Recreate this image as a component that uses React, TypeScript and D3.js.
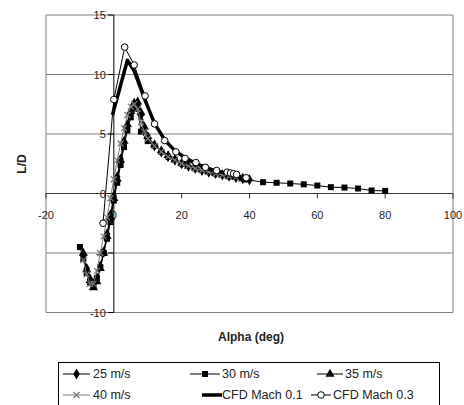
import React from "react";
import * as d3 from "d3";

// Lift-to-drag ratio vs. angle of attack: wind tunnel runs and CFD predictions
const alpha25 = [-9, -8, -7, -6, -5, -4, -3, -2, -1, 0, 1, 2, 3, 4, 5, 6, 7, 8, 9, 10, 12, 14, 16, 18, 20, 22, 24, 26, 28, 30, 32, 34, 36, 38, 40];
const ld25 = [-5.2, -6.3, -7.2, -7.6, -7.1, -6.1, -4.9, -3.4, -1.8, -0.2, 1.4, 2.9, 4.3, 5.6, 6.7, 7.4, 7.5, 6.6, 5.4, 4.7, 4.0, 3.5, 3.1, 2.8, 2.5, 2.3, 2.1, 1.95, 1.8, 1.68, 1.56, 1.45, 1.35, 1.25, 1.15];

const alpha30 = [-10, -9, -8, -7, -6, -5, -4, -3, -2, -1, 0, 1, 2, 3, 4, 5, 6, 7, 8, 10, 12, 14, 16, 18, 21, 24, 27, 30, 34, 39, 44, 48, 52, 56, 60, 64, 68, 72, 76, 80];
const ld30 = [-4.5, -5.5, -6.7, -7.5, -7.7, -7.1, -6.2, -5.0, -3.8, -2.4, -0.6, 0.9, 2.4, 3.9, 5.3, 6.4, 7.1, 7.2, 5.2, 4.4, 4.0, 3.5, 3.1, 2.85, 2.5, 2.2, 1.96, 1.7, 1.43, 1.18, 0.95, 0.9, 0.84, 0.77, 0.67, 0.53, 0.5, 0.42, 0.25, 0.22];

const alpha35 = [-9, -8, -7, -6, -5, -4, -3, -2, -1, 0, 1, 2, 3, 4, 5, 6, 7, 8, 9, 10, 12, 14, 16, 18, 20, 22, 24, 26, 28, 30, 32, 34, 36, 38];
const ld35 = [-5.0, -6.4, -7.3, -7.9, -7.4, -6.3, -5.0, -3.6, -2.0, -0.4, 1.2, 2.8, 4.4, 5.8, 6.9, 7.6, 7.7, 6.8, 5.6, 4.8, 4.1, 3.6, 3.2, 2.85, 2.55, 2.3, 2.15, 1.98, 1.82, 1.7, 1.57, 1.45, 1.35, 1.25];

const alpha40 = [-9, -8, -7, -6, -5, -4, -3, -2, -1, 0, 1, 2, 3, 4, 5, 6, 7, 8, 9, 10, 12, 14, 16, 18, 20, 22, 24, 26, 28, 30, 32, 34, 36];
const ld40 = [-5.6, -6.8, -7.6, -7.6, -6.5, -5.0, -3.6, -2.0, -0.4, 1.2, 2.8, 4.2, 5.5, 6.6, 7.3, 7.5, 7.1, 6.0, 5.2, 4.6, 4.0, 3.5, 3.1, 2.8, 2.5, 2.3, 2.1, 1.95, 1.8, 1.68, 1.56, 1.45, 1.35];

const alphaCfd1 = [-0.4, 4, 6, 9, 12, 15, 18, 21, 24, 27, 30, 33, 36, 40];
const ldCfd1 = [6.6, 11.2, 10.3, 8.0, 5.9, 4.5, 3.6, 3.0, 2.55, 2.2, 1.9, 1.7, 1.5, 1.2];

const alphaCfd3 = [-3.2, 0, 3.2, 6, 9.2, 12, 15, 18.3, 21, 24.2, 27, 30.3, 33.4, 34.4, 35.3, 36.2, 39];
const ldCfd3 = [-2.5, 7.9, 12.3, 10.8, 8.2, 5.85, 4.45, 3.5, 2.95, 2.6, 2.2, 1.93, 1.79, 1.72, 1.66, 1.6, 1.32];

const xTicks = [-20, 0, 20, 40, 60, 80, 100];
const yTicks = [-10, -5, 0, 5, 10, 15];
const gridValues = [-10, -5, 5, 10, 15];

const FONT = "'Liberation Sans', Arial, sans-serif";
const TEXT = "#222";
const GRID = "#808080";

type Marker = "diamond" | "square" | "triangle" | "cross" | "circle" | "none";

interface Series {
  name: string;
  alpha: number[];
  ld: number[];
  marker: Marker;
  color: string;
  width: number;
}

const series: Series[] = [
  { name: "25 m/s", alpha: alpha25, ld: ld25, marker: "diamond", color: "#000", width: 1 },
  { name: "30 m/s", alpha: alpha30, ld: ld30, marker: "square", color: "#000", width: 1 },
  { name: "35 m/s", alpha: alpha35, ld: ld35, marker: "triangle", color: "#000", width: 1 },
  { name: "40 m/s", alpha: alpha40, ld: ld40, marker: "cross", color: "#7a7a7a", width: 1 },
  { name: "CFD Mach 0.1", alpha: alphaCfd1, ld: ldCfd1, marker: "none", color: "#000", width: 3.5 },
  { name: "CFD Mach 0.3", alpha: alphaCfd3, ld: ldCfd3, marker: "circle", color: "#000", width: 1 },
];

const x = d3.scaleLinear().domain([-20, 100]).range([46, 453]);
const y = d3.scaleLinear().domain([-10, 15]).range([312.5, 15]);

const diamondPath = d3.symbol().type(d3.symbolDiamond).size(36)()!;
const squarePath = d3.symbol().type(d3.symbolSquare).size(36)()!;
const trianglePath = d3.symbol().type(d3.symbolTriangle).size(36)()!;

function MarkerShape({ kind, cx, cy, color }: { kind: Marker; cx: number; cy: number; color: string }) {
  const t = `translate(${cx},${cy})`;
  switch (kind) {
    case "diamond":
      return <path d={diamondPath} transform={t} fill={color} />;
    case "square":
      return <path d={squarePath} transform={t} fill={color} />;
    case "triangle":
      return <path d={trianglePath} transform={t} fill={color} />;
    case "cross":
      return (
        <path
          d="M-3,-3L3,3M-3,3L3,-3"
          transform={t}
          stroke={color}
          strokeWidth={1.2}
          fill="none"
        />
      );
    case "circle":
      return <circle cx={cx} cy={cy} r={3.3} fill="#fff" stroke={color} strokeWidth={1} />;
    default:
      return null;
  }
}

const legendItems = [
  { s: 0, x0: 63, x1: 90, tx: 93, ty: 378 },
  { s: 1, x0: 190, x1: 220, tx: 222, ty: 378 },
  { s: 2, x0: 317, x1: 343, tx: 345, ty: 378 },
  { s: 3, x0: 63, x1: 90, tx: 93, ty: 399 },
  { s: 4, x0: 202, x1: 222, tx: 222, ty: 399 },
  { s: 5, x0: 311, x1: 331, tx: 333, ty: 399 },
];

export default function App() {
  const line = d3
    .line<[number, number]>()
    .x((d) => x(d[0]))
    .y((d) => y(d[1]));

  return (
    <svg
      width={464}
      height={405}
      style={{ position: "absolute", left: 0, top: 0, background: "#fff" }}
      fontFamily={FONT}
    >
      {/* plot frame and gridlines */}
      <line x1={x(-20)} x2={x(-20)} y1={y(15)} y2={y(-10)} stroke={GRID} />
      <line x1={x(100)} x2={x(100)} y1={y(15)} y2={y(-10)} stroke={GRID} />
      {gridValues.map((v) => (
        <line key={v} x1={x(-20)} x2={x(100)} y1={y(v)} y2={y(v)} stroke={GRID} />
      ))}

      {/* x axis through L/D = 0 */}
      <line x1={x(-20)} x2={x(100)} y1={y(0)} y2={y(0)} stroke="#333" />
      {xTicks.map((v) => (
        <g key={v}>
          <line x1={x(v)} x2={x(v)} y1={y(0)} y2={y(0) + 5} stroke="#333" />
          <text x={x(v)} y={y(0) + 25} textAnchor="middle" fontSize={11} fill={TEXT}>
            {v}
          </text>
        </g>
      ))}

      {/* y axis through alpha = 0 */}
      <line x1={x(0)} x2={x(0)} y1={y(15)} y2={y(-10)} stroke="#000" />
      {yTicks.map((v) => (
        <g key={v}>
          <line x1={x(0) - 6} x2={x(0)} y1={y(v)} y2={y(v)} stroke="#000" />
          <text x={x(0) - 8} y={y(v) + 4} textAnchor="end" fontSize={11} fill={TEXT}>
            {v}
          </text>
        </g>
      ))}

      {/* series */}
      {series.map((s, i) => {
        const pts = s.alpha.map((a, j) => [a, s.ld[j]] as [number, number]);
        return (
          <g key={i}>
            <path d={line(pts)!} fill="none" stroke={s.color} strokeWidth={s.width} strokeLinejoin="round" />
            {pts.map((p, j) => (
              <MarkerShape key={j} kind={s.marker} cx={x(p[0])} cy={y(p[1])} color={s.color} />
            ))}
          </g>
        );
      })}

      {/* axis titles */}
      <text
        transform={`translate(26,164) rotate(-90)`}
        textAnchor="middle"
        fontSize={12}
        fontWeight="bold"
        fill={TEXT}
      >
        L/D
      </text>
      <text x={251} y={341} textAnchor="middle" fontSize={12} fontWeight="bold" fill={TEXT}>
        Alpha (deg)
      </text>

      {/* legend */}
      <rect x={58.5} y={362.5} width={381} height={60} fill="#fff" stroke="#000" />
      {legendItems.map((it) => {
        const s = series[it.s];
        const cy = it.ty - 4;
        return (
          <g key={it.s}>
            <line x1={it.x0} x2={it.x1} y1={cy} y2={cy} stroke={s.color} strokeWidth={s.width} />
            <MarkerShape kind={s.marker} cx={(it.x0 + it.x1) / 2} cy={cy} color={s.color} />
            <text x={it.tx} y={it.ty} fontSize={12.5} fill={TEXT}>
              {s.name}
            </text>
          </g>
        );
      })}
    </svg>
  );
}
